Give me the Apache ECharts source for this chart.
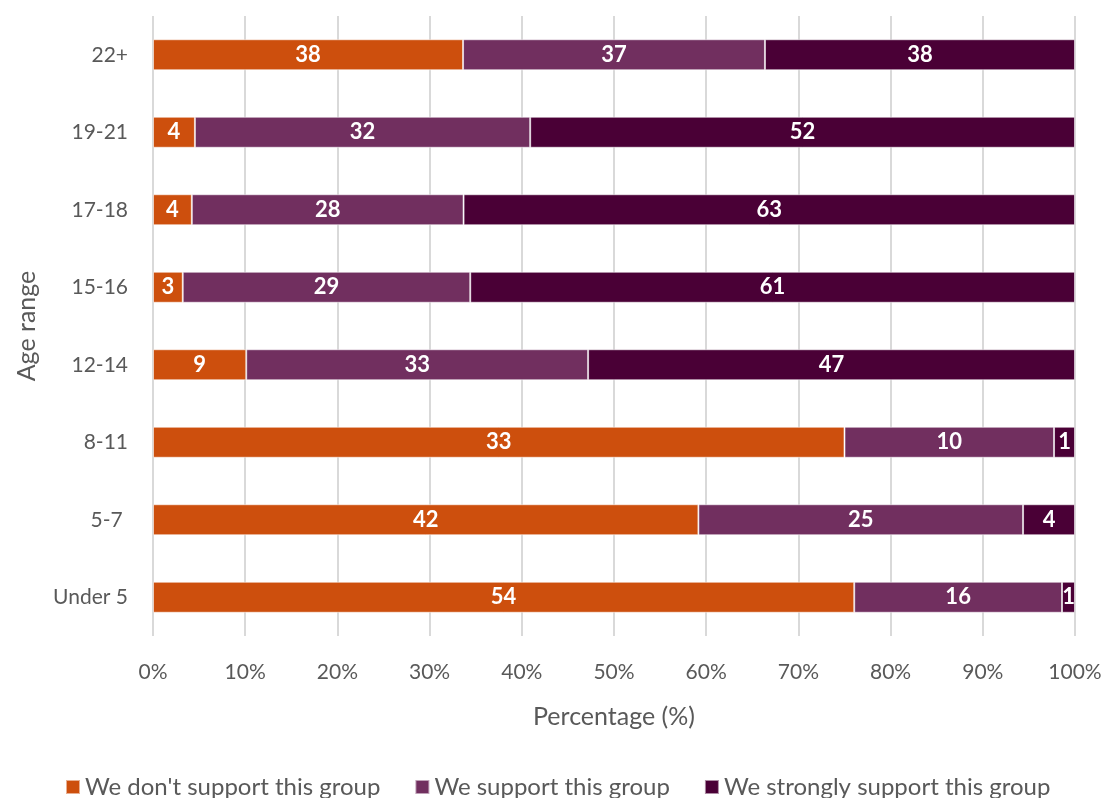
<!DOCTYPE html>
<html>
<head>
<meta charset="utf-8">
<script src="https://cdn.jsdelivr.net/npm/echarts@6/dist/echarts.min.js"></script>
<style>
  html, body { margin: 0; padding: 0; background: #fff; }
  #chart { width: 1109px; height: 798px; }
</style>
</head>
<body>
<div id="chart"></div>
<script>
// Age ranges, bottom to top
const ageRanges = ['Under 5', '5-7 ', '8-11', '12-14', '15-16', '17-18', '19-21', '22+'];
// Response counts per age range
const dontSupport = [54, 42, 33, 9, 3, 4, 4, 38];
const support = [16, 25, 10, 33, 29, 28, 32, 37];
const stronglySupport = [1, 4, 1, 47, 61, 63, 52, 38];
const seriesNames = ['We don\'t support this group', 'We support this group', 'We strongly support this group'];
const xTicks = [0, 10, 20, 30, 40, 50, 60, 70, 80, 90, 100];

const colors = ['#CD4F0D', '#712F5F', '#4A0036'];
const counts = [dontSupport, support, stronglySupport];
const totals = ageRanges.map((_, i) => counts.reduce((s, arr) => s + arr[i], 0));

const font = 'Lato, Calibri, "Open Sans", sans-serif';

// Each segment is drawn as its share of the row total; the label shows the count
const series = counts.map((arr, k) => ({
  name: seriesNames[k],
  type: 'bar',
  stack: 'total',
  barWidth: 31,
  itemStyle: { color: colors[k], borderColor: 'rgba(255,255,255,0.55)', borderWidth: 1 },
  label: {
    show: true,
    position: 'inside',
    color: '#fff',
    fontWeight: 'bold',
    fontSize: 22,
    fontFamily: font,
    formatter: p => String(arr[p.dataIndex])
  },
  data: arr.map((v, i) => v / totals[i] * 100)
}));

const chart = echarts.init(document.getElementById('chart'));
chart.setOption({
  animation: false,
  color: colors,
  grid: { left: 153, right: 34, top: 16, bottom: 162, containLabel: false, outerBoundsMode: 'none' },
  legend: {
    bottom: -6,
    left: 60,
    itemWidth: 14,
    itemHeight: 14,
    itemGap: 34,
    icon: 'rect',
    textStyle: { fontSize: 24, color: '#595959', fontFamily: font },
    data: seriesNames
  },
  xAxis: {
    type: 'value',
    min: xTicks[0],
    max: xTicks[xTicks.length - 1],
    interval: 10,
    name: 'Percentage (%)',
    nameLocation: 'middle',
    nameGap: 68,
    nameTextStyle: { fontSize: 25, color: '#595959', fontFamily: font },
    axisLine: { show: false },
    axisTick: { show: false },
    axisLabel: { fontSize: 21, color: '#595959', fontFamily: font, margin: 26, formatter: v => v + '%' },
    splitLine: { lineStyle: { color: '#D9D9D9', width: 2 } }
  },
  yAxis: {
    type: 'category',
    data: ageRanges,
    name: 'Age range',
    nameLocation: 'middle',
    nameGap: 114,
    nameRotate: 90,
    nameTextStyle: { fontSize: 25, color: '#595959', fontFamily: font },
    axisLine: { show: false },
    axisTick: { show: false },
    axisLabel: { fontSize: 21, color: '#595959', fontFamily: font, margin: 25 }
  },
  series: series
});
</script>
</body>
</html>
